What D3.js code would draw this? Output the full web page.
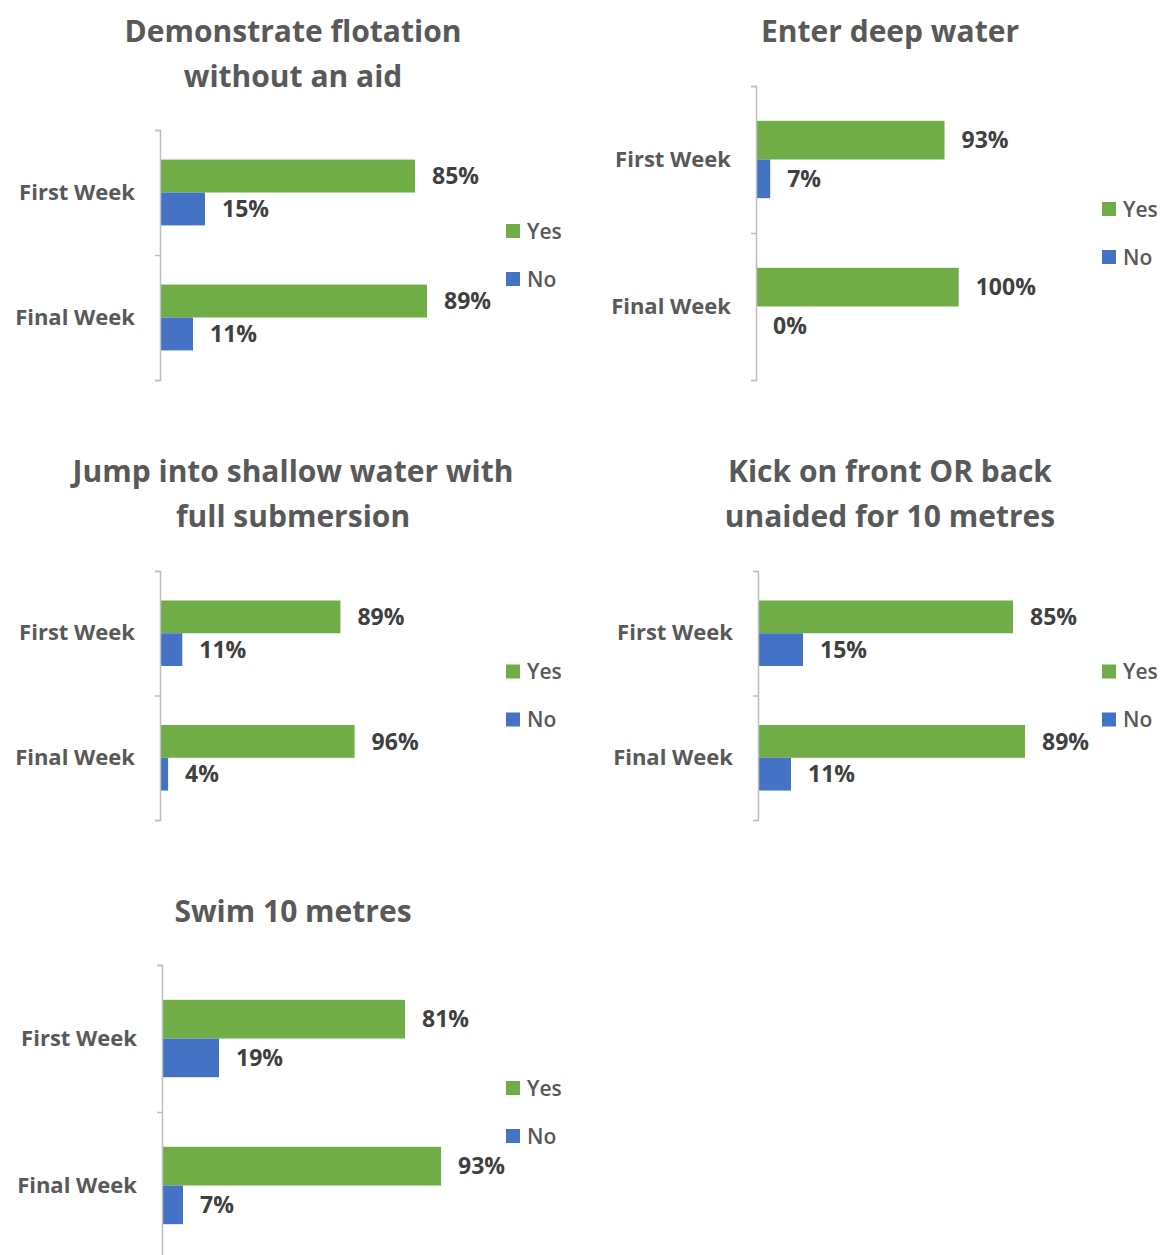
<!DOCTYPE html>
<html>
<head>
<meta charset="utf-8">
<script src="https://cdn.jsdelivr.net/npm/d3@7"></script>
<style>
  body { margin: 0; background: #fff; }
  svg { display: block; font-family: "Open Sans", sans-serif; }
</style>
</head>
<body>
<div id="chart"></div>
<script>
// chart data
var titles = [
  ["Demonstrate flotation", "without an aid"],
  ["Enter deep water"],
  ["Jump into shallow water with", "full submersion"],
  ["Kick on front OR back", "unaided for 10 metres"],
  ["Swim 10 metres"]
];
var weeks = ["First Week", "Final Week"];
var seriesNames = ["Yes", "No"];
var yesValues = [[0.85, 0.89], [0.93, 1.00], [0.89, 0.96], [0.85, 0.89], [0.81, 0.93]];
var noValues  = [[0.15, 0.11], [0.07, 0.00], [0.11, 0.04], [0.15, 0.11], [0.19, 0.07]];
var axisMax = [1, 1.48, 1.48, 1, 1];

var colors = {Yes: "#70AD47", No: "#4472C4"};

// panel layout (axis x, plot top/bottom, title centre, legend x)
var panels = [
  {ax: 160, top: 130, bottom: 380, tx: 293, ty: 42, lx: 506},
  {ax: 756, top: 86,  bottom: 380, tx: 890, ty: 42, lx: 1102},
  {ax: 160, top: 571, bottom: 820, tx: 293, ty: 482, lx: 506},
  {ax: 758, top: 571, bottom: 820, tx: 890, ty: 482, lx: 1102},
  {ax: 162, top: 965, bottom: 1259, tx: 293, ty: 922, lx: 506}
];
var plotWidth = 300;

var svg = d3.select("#chart").append("svg")
    .attr("width", 1160)
    .attr("height", 1255);

panels.forEach(function(p, i) {
  var g = svg.append("g");

  // title
  g.append("text")
      .attr("text-anchor", "middle")
      .attr("fill", "#595959")
      .style("font-size", "30px")
      .style("font-weight", 700)
    .selectAll("tspan")
      .data(titles[i])
    .enter().append("tspan")
      .attr("x", p.tx)
      .attr("y", function(d, j) { return p.ty + j * 45; })
      .text(function(d) { return d; });

  var x = d3.scaleLinear()
      .domain([0, axisMax[i]])
      .range([p.ax, p.ax + plotWidth]);

  var y0 = d3.scaleBand()
      .domain(weeks)
      .range([p.top, p.bottom]);

  var y1 = d3.scaleBand()
      .domain(seriesNames)
      .range([0, y0.bandwidth()])
      .paddingOuter(0.9);

  var rows = weeks.map(function(w, k) {
    return {week: w, Yes: yesValues[i][k], No: noValues[i][k]};
  });

  // bars
  var grp = g.selectAll(".grp")
      .data(rows)
    .enter().append("g")
      .attr("class", "grp")
      .attr("transform", function(d) { return "translate(0," + y0(d.week) + ")"; });

  grp.selectAll("rect")
      .data(function(d) { return seriesNames.map(function(s) { return {key: s, value: d[s]}; }); })
    .enter().append("rect")
      .attr("x", x(0))
      .attr("y", function(d) { return y1(d.key); })
      .attr("width", function(d) { return x(d.value) - x(0); })
      .attr("height", y1.bandwidth())
      .attr("fill", function(d) { return colors[d.key]; });

  // data labels
  grp.selectAll(".lbl")
      .data(function(d) { return seriesNames.map(function(s) { return {key: s, value: d[s]}; }); })
    .enter().append("text")
      .attr("class", "lbl")
      .attr("x", function(d) { return x(d.value) + 17; })
      .attr("y", function(d) { return y1(d.key) + y1.bandwidth() / 2; })
      .attr("dy", "0.36em")
      .attr("fill", "#404040")
      .style("font-size", "23px")
      .style("font-weight", 700)
      .text(function(d) { return d3.format(".0%")(d.value); });

  // axis line with ticks between categories
  var yb = d3.scaleLinear().domain([0, weeks.length]).range([p.top, p.bottom]);
  var axis = g.append("g")
      .attr("transform", "translate(" + p.ax + ",0)")
      .call(d3.axisLeft(yb).tickValues(d3.range(weeks.length + 1)).tickSize(5).tickFormat(""));
  axis.selectAll("path, line").attr("stroke", "#BFBFBF").attr("stroke-width", 1.5);

  // category labels
  var cats = g.append("g")
      .attr("transform", "translate(" + p.ax + ",0)")
      .call(d3.axisLeft(y0).tickSize(0).tickPadding(25));
  cats.select(".domain").remove();
  cats.selectAll("text")
      .attr("fill", "#595959")
      .style("font-family", "'Open Sans', sans-serif")
      .style("font-size", "22px")
      .style("font-weight", 700);

  // legend
  var mid = (p.top + p.bottom) / 2;
  var leg = g.selectAll(".leg")
      .data(seriesNames)
    .enter().append("g")
      .attr("class", "leg")
      .attr("transform", function(d, k) { return "translate(" + p.lx + "," + (mid - 24 + k * 48) + ")"; });
  leg.append("rect")
      .attr("x", 0)
      .attr("y", -7)
      .attr("width", 14)
      .attr("height", 14)
      .attr("fill", function(d) { return colors[d]; });
  leg.append("text")
      .attr("x", 21)
      .attr("dy", "0.36em")
      .attr("fill", "#595959")
      .style("font-size", "21px")
      .style("font-weight", 600)
      .text(function(d) { return d; });
});
</script>
</body>
</html>
